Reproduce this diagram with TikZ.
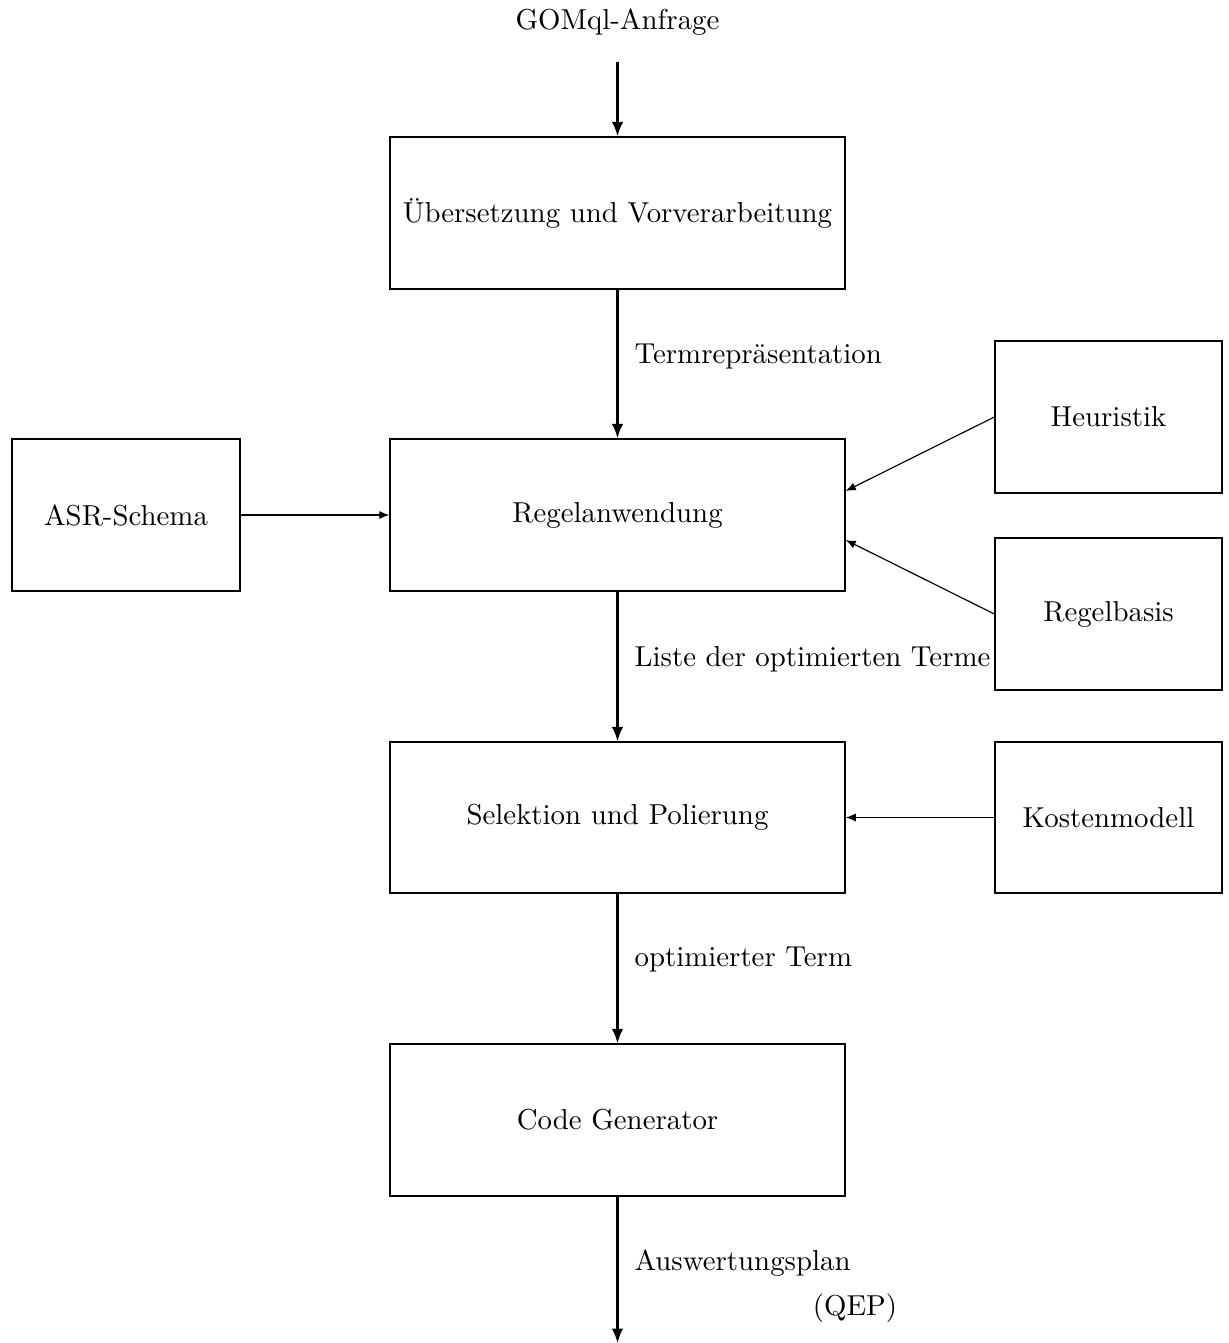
\documentclass[tikz,border=0pt]{standalone}
\usetikzlibrary{arrows.meta}
\begin{document}
\begin{tikzpicture}[x=0.3467pt,y=-0.3467pt,
  box/.style={draw,line width=0.45pt,inner sep=0pt},
  mainarrow/.style={-{Latex[length=5pt,width=4pt]},line width=0.8pt},
  sidearrow/.style={-{Latex[length=3.5pt,width=2.8pt]},line width=0.4pt},
  lbl/.style={anchor=west,inner sep=0pt}]
\useasboundingbox (0,0) rectangle (1228,1343);
\node[box,minimum width=455*0.3467pt,minimum height=152*0.3467pt] (ueb) at (617.5,213) {\"Ubersetzung und Vorverarbeitung};
\node[box,minimum width=455*0.3467pt,minimum height=152*0.3467pt] (regel) at (617.5,515) {Regelanwendung};
\node[box,minimum width=455*0.3467pt,minimum height=151*0.3467pt] (sel) at (617.5,817.5) {Selektion und Polierung};
\node[box,minimum width=455*0.3467pt,minimum height=152*0.3467pt] (code) at (617.5,1120) {Code Generator};
\node[box,minimum width=228*0.3467pt,minimum height=152*0.3467pt] (asr) at (126,515) {ASR-Schema};
\node[box,minimum width=227*0.3467pt,minimum height=152*0.3467pt] (heur) at (1108.5,417) {Heuristik};
\node[box,minimum width=227*0.3467pt,minimum height=152*0.3467pt] (basis) at (1108.5,614) {Regelbasis};
\node[box,minimum width=227*0.3467pt,minimum height=151*0.3467pt] (kost) at (1108.5,817.5) {Kostenmodell};
\node (gom) at (617.5,22) {GOMql-Anfrage};
\coordinate (gomend) at (617.5,62);
\coordinate (outend) at (617.5,1343);
\draw[mainarrow] (gomend) -- (ueb.north);
\draw[mainarrow] (ueb.south) -- node[lbl,pos=0.45,xshift=16*0.3467pt]{Termrepr\"asentation} (regel.north);
\draw[mainarrow] (regel.south) -- node[lbl,pos=0.45,xshift=16*0.3467pt]{Liste der optimierten Terme} (sel.north);
\draw[mainarrow] (sel.south) -- node[lbl,pos=0.44,xshift=16*0.3467pt]{optimierter Term} (code.north);
\draw[mainarrow] (code.south) -- (outend);
\node[lbl] (ausw) at (634,1263) {Auswertungsplan};
\node (qep) at (855,1308) {(QEP)};
\draw[sidearrow] (asr.east) -- (regel.west);
\draw[sidearrow] (heur.west) -- ([yshift=24*0.3467pt]regel.east);
\draw[sidearrow] (basis.west) -- ([yshift=-25*0.3467pt]regel.east);
\draw[sidearrow] (kost.west) -- (sel.east);
\end{tikzpicture}
\end{document}
